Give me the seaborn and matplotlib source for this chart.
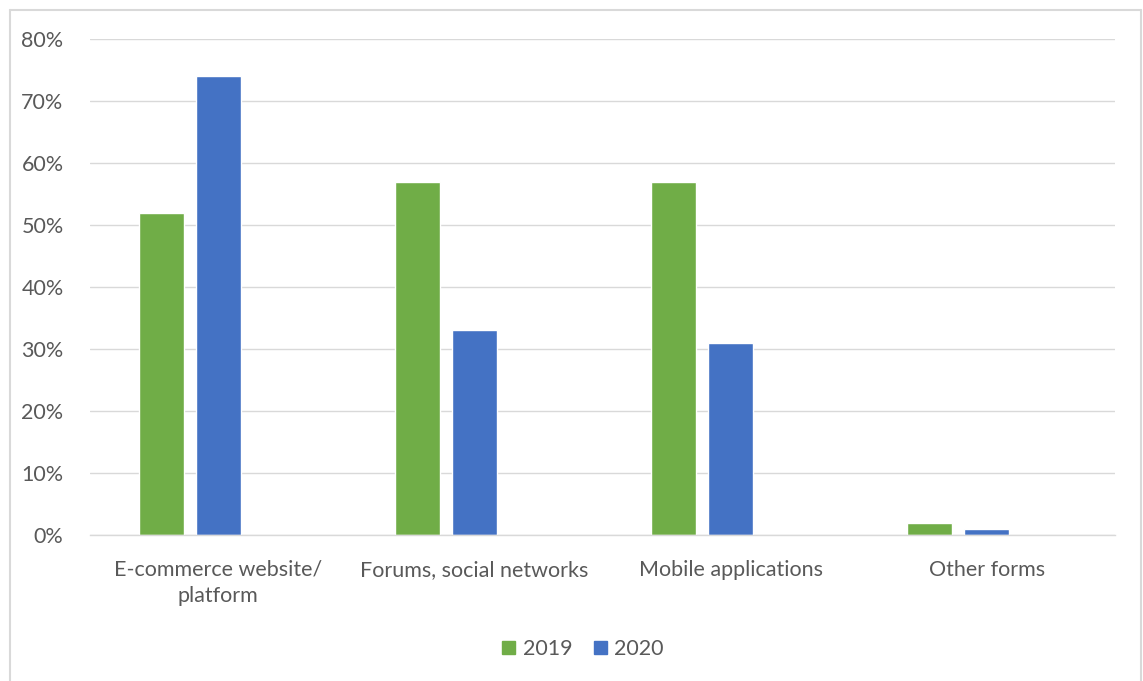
import matplotlib
matplotlib.use("Agg")
import matplotlib.pyplot as plt
import matplotlib.patches as mpatches
from matplotlib.lines import Line2D
import seaborn as sns
import pandas as pd
from matplotlib.ticker import FuncFormatter

categories = ["E-commerce website/\nplatform", "Forums, social networks", "Mobile applications", "Other forms"]
years = ["2019", "2020"]
values_2019 = [0.52, 0.57, 0.57, 0.02]
values_2020 = [0.74, 0.33, 0.31, 0.01]
colors = {"2019": "#70AD47", "2020": "#4472C4", " ": "#FFFFFF"}

df = pd.DataFrame({
    "category": categories * 2,
    "year": ["2019"] * 4 + ["2020"] * 4,
    "value": values_2019 + values_2020,
})

sns.set_style("white")
plt.rcParams["font.family"] = ["Lato", "DejaVu Sans"]

W, H = 1143, 681
fs = 15.5
fig = plt.figure(figsize=(W / 100, H / 100), dpi=100)
ax = fig.add_axes([90 / W, 1 - 535 / H, (1115 - 90) / W, (535 - 39) / H])

sns.barplot(data=df, x="category", y="value", hue="year",
            hue_order=["2019", "2020", " "], order=categories,
            palette=colors, width=0.668, gap=0.21, ax=ax,
            errorbar=None, legend=False, saturation=1)

ax.set_ylim(0, 0.8)
ax.set_xlim(-0.5, 3.5)
ax.set_yticks([i / 10 for i in range(9)])
ax.yaxis.set_major_formatter(FuncFormatter(lambda v, p: f"{v*100:.0f}%"))
ax.grid(axis="y", color="#D9D9D9", linewidth=1)
ax.set_axisbelow(True)
for s in ["top", "right", "left"]:
    ax.spines[s].set_visible(False)
ax.spines["bottom"].set_color("#D9D9D9")
ax.spines["bottom"].set_linewidth(1)
ax.tick_params(axis="both", length=0, labelsize=fs, colors="#595959")
ax.tick_params(axis="y", pad=19)
ax.tick_params(axis="x", pad=18)
ax.set_xlabel("")
ax.set_ylabel("")
for lbl in ax.get_xticklabels():
    lbl.set_linespacing(1.4)

handles = [mpatches.Patch(color=colors[y], label=y) for y in years]
fig.legend(handles=handles, loc="center", bbox_to_anchor=(583 / W, 1 - 649 / H),
           ncol=2, frameon=False, fontsize=fs, labelcolor="#595959",
           handlelength=0.6, handleheight=0.6, handletextpad=0.35, columnspacing=1.0)

border = "#D9D9D9"
fig.add_artist(Line2D([10 / W, 10 / W], [0, 1 - 10 / H], color=border, lw=1.5, transform=fig.transFigure))
fig.add_artist(Line2D([10 / W, 1141 / W], [1 - 10 / H, 1 - 10 / H], color=border, lw=1.5, transform=fig.transFigure))
fig.add_artist(Line2D([1141 / W, 1141 / W], [0, 1 - 10 / H], color=border, lw=1.5, transform=fig.transFigure))

fig.savefig("out.png", dpi=100)
